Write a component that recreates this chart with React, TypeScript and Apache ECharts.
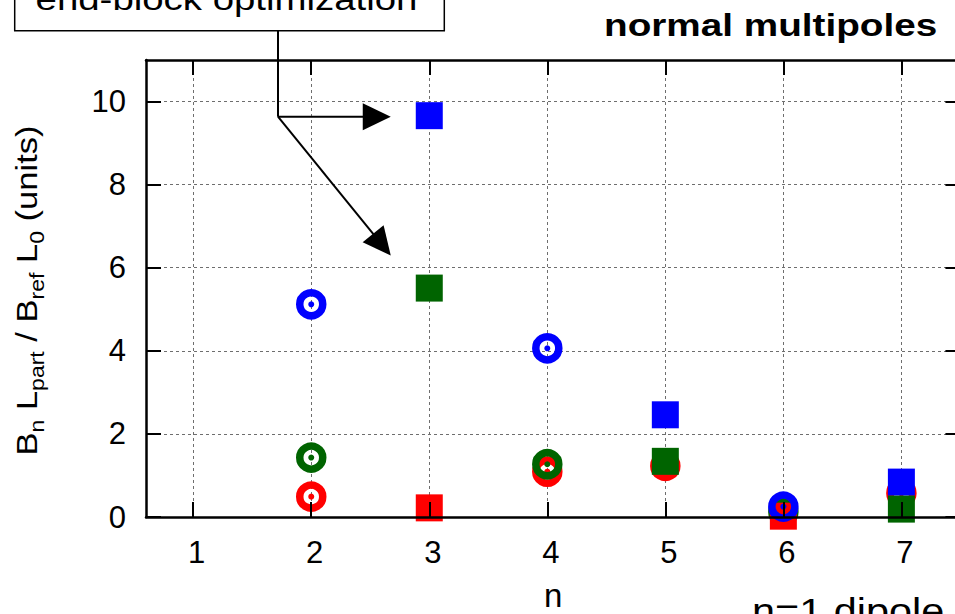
import { useEffect, useRef } from 'react';
import * as echarts from 'echarts';

// Multipole order n on the horizontal axis, value ticks on the vertical one
const orders = [1, 2, 3, 4, 5, 6, 7];
const yTickValues = [0, 2, 4, 6, 8, 10];
const xRange = [0.6, 7.5];
const yRange = [0, 11];

// Integrated normal multipoles, [n, Bn Lpart / Bref L0] in units
const redRings = [[2, 0.49], [4, 1.09], [5, 1.23], [7, 0.57]];
const greenRings = [[2, 1.43], [4, 1.27], [6, 0.12]];
const blueRings = [[2, 5.12], [4, 4.06], [6, 0.25]];
const redSquares = [[3, 0.22], [6, 0.02]];
const blueSquares = [[3, 9.66], [5, 2.46], [7, 0.84]];
const greenSquares = [[3, 5.51], [5, 1.34], [7, 0.19]];

// Y-axis title pieces: [text, isSubscript]
const yLabelParts: [string, boolean][] = [
  ['B', false], ['n', true], [' L', false], ['part', true],
  [' / B', false], ['ref', true], [' L', false], ['0', true], [' (units)', false],
];

const RED = '#ff0000';
const GREEN = '#006400';
const BLUE = '#0000ff';
const FONT = '"Liberation Sans", Arial, Helvetica, sans-serif';
const CENTRAL = 0.3465; // distance from alphabetic baseline to em-box centre, in em

function ringSeries(name: string, data: number[][], color: string) {
  return [
    {
      type: 'scatter', name, data, symbol: 'circle', symbolSize: 23, silent: true,
      emphasis: { disabled: true },
      itemStyle: { color: 'rgba(0,0,0,0)', borderColor: color, borderWidth: 7.5, opacity: 1 },
    },
    {
      type: 'scatter', name: name + ' centre', data, symbol: 'circle', symbolSize: 6, silent: true,
      emphasis: { disabled: true },
      itemStyle: { color, opacity: 1 },
    },
  ];
}

function squareSeries(name: string, data: number[][], color: string) {
  return {
    type: 'scatter', name, data, symbol: 'rect', symbolSize: 27, silent: true,
    emphasis: { disabled: true },
    itemStyle: { color, opacity: 1 },
  };
}

const gridLine = { show: true, lineStyle: { color: '#6e6e6e', width: 1, type: [3, 3] } };
const frameLine = { show: true, onZero: false, lineStyle: { color: '#000', width: 2.5 } };
const ticks = (values: number[]) => ({
  show: true, inside: true, length: 15, customValues: values,
  lineStyle: { color: '#000', width: 2 },
});
const tickLabel = {
  fontSize: 31, fontFamily: FONT, color: '#000', margin: 20,
};

function buildYLabel() {
  const ctx = document.createElement('canvas').getContext('2d')!;
  const MAIN = 30;
  const SUB = 20;
  const SHIFT = 7;
  let cx = 0;
  const children: any[] = [];
  for (const [t, sub] of yLabelParts) {
    const fs = sub ? SUB : MAIN;
    ctx.font = `${fs}px "Liberation Sans"`;
    const trimmed = t.replace(/^\s+/, '');
    const lead = ctx.measureText(t.slice(0, t.length - trimmed.length)).width;
    children.push({
      type: 'text',
      x: cx + lead,
      y: (sub ? SHIFT : 0) - CENTRAL * fs,
      style: {
        text: trimmed, fontSize: fs, fontFamily: FONT, fill: '#000',
        align: 'left', verticalAlign: 'middle', textAlign: 'left', textVerticalAlign: 'middle',
      },
    });
    cx += ctx.measureText(t).width;
  }
  return { width: cx, children };
}

function arrow(from: number[], tip: number[], id: string) {
  const len = 28;
  const half = 13.5;
  const dx = tip[0] - from[0];
  const dy = tip[1] - from[1];
  const d = Math.hypot(dx, dy);
  const ux = dx / d;
  const uy = dy / d;
  const bx = tip[0] - ux * len;
  const by = tip[1] - uy * len;
  return [
    {
      type: 'line', id: id + '-shaft', z: 100,
      shape: { x1: from[0], y1: from[1], x2: bx + ux * 2, y2: by + uy * 2 },
      style: { stroke: '#000', lineWidth: 2 },
    },
    {
      type: 'polygon', id: id + '-head', z: 100,
      shape: { points: [[tip[0], tip[1]], [bx - uy * half, by + ux * half], [bx + uy * half, by - ux * half]] },
      style: { fill: '#000' },
    },
  ];
}

export default function App() {
  const ref = useRef<HTMLDivElement>(null);

  useEffect(() => {
    if (!ref.current) return;
    const chart = echarts.init(ref.current, null, { renderer: 'svg' });

    const axisX = (position: string, extra: any) => ({
      type: 'value', min: xRange[0], max: xRange[1], position, ...extra,
    });
    const axisY = (position: string, extra: any) => ({
      type: 'value', min: yRange[0], max: yRange[1], position, ...extra,
    });

    chart.setOption({
      animation: false,
      backgroundColor: '#ffffff',
      grid: { left: 146, top: 60, right: -5.4, bottom: 97, containLabel: false, outerBoundsMode: 'none' },
      xAxis: [
        axisX('bottom', {
          axisLine: { show: false, onZero: false },
          axisTick: { show: false, customValues: orders },
          splitLine: gridLine,
          axisLabel: { ...tickLabel, customValues: orders, padding: [0, 0, 0, 7] },
          name: 'n', nameLocation: 'middle', nameGap: 62,
          nameTextStyle: { fontSize: 33, fontFamily: FONT, color: '#000' },
        }),
        axisX('bottom', {
          axisLine: frameLine, axisTick: ticks(orders), axisLabel: { show: false },
          splitLine: { show: false }, z: 10,
        }),
        axisX('top', {
          axisLine: frameLine, axisTick: ticks(orders), axisLabel: { show: false },
          splitLine: { show: false }, z: 10,
        }),
      ],
      yAxis: [
        axisY('left', {
          axisLine: { show: false, onZero: false },
          axisTick: { show: false, customValues: yTickValues },
          splitLine: gridLine,
          axisLabel: { ...tickLabel, customValues: yTickValues },
        }),
        axisY('left', {
          axisLine: frameLine, axisTick: ticks(yTickValues), axisLabel: { show: false },
          splitLine: { show: false }, z: 10,
        }),
        axisY('right', {
          axisLine: frameLine, axisTick: ticks(yTickValues), axisLabel: { show: false },
          splitLine: { show: false }, z: 10,
        }),
      ],
      series: [
        ...ringSeries('red rings', redRings, RED),
        ...ringSeries('green rings', greenRings, GREEN),
        squareSeries('red squares', redSquares, RED),
        ...ringSeries('blue rings', blueRings, BLUE),
        squareSeries('blue squares', blueSquares, BLUE),
        squareSeries('green squares', greenSquares, GREEN),
      ],
    });

    // Annotation arrows point at the optimized n = 3 values
    const finder = { xAxisIndex: 0, yAxisIndex: 0 };
    const blueAt3 = chart.convertToPixel(finder, blueSquares[0]) as number[];
    const greenAt3 = chart.convertToPixel(finder, greenSquares[0]) as number[];
    const tip1 = [blueAt3[0] - 38.5, blueAt3[1] + 1];
    const tip2 = [greenAt3[0] - 38.5, greenAt3[1] - 32.5];
    const knee = [278, tip1[1]];

    const yLabel = buildYLabel();
    const yScale = 330 / yLabel.width;

    chart.setOption({
      graphic: [
        {
          type: 'text', id: 'title', x: 604, y: 36 - CENTRAL * 32, scaleX: 1.21, z: 100,
          style: {
            text: 'normal multipoles', fontSize: 32, fontWeight: 'bold', fontFamily: FONT, fill: '#000',
            align: 'left', verticalAlign: 'middle', textAlign: 'left', textVerticalAlign: 'middle',
          },
        },
        {
          type: 'rect', id: 'note-box', z: 100,
          shape: { x: 14.7, y: -40, width: 429.6, height: 70.7 },
          style: { fill: '#fff', stroke: '#000', lineWidth: 1.5 },
        },
        {
          type: 'text', id: 'note-text', x: 226.5, y: 10 - CENTRAL * 32, scaleX: 1.2, z: 101,
          style: {
            text: 'end-block optimization', fontSize: 32, fontFamily: FONT, fill: '#000',
            align: 'center', verticalAlign: 'middle', textAlign: 'center', textVerticalAlign: 'middle',
          },
        },
        {
          type: 'line', id: 'note-stem', z: 100,
          shape: { x1: knee[0], y1: 30.7, x2: knee[0], y2: knee[1] },
          style: { stroke: '#000', lineWidth: 2 },
        },
        ...arrow(knee, tip1, 'arrow-blue'),
        ...arrow(knee, tip2, 'arrow-green'),
        {
          type: 'text', id: 'dipole-note', x: 752, y: 623 - CENTRAL * 36, scaleX: 1.15, z: 100,
          style: {
            text: 'n=1 dipole', fontSize: 36, fontFamily: FONT, fill: '#000',
            align: 'left', verticalAlign: 'middle', textAlign: 'left', textVerticalAlign: 'middle',
          },
        },
        {
          type: 'group', id: 'y-title', x: 37, y: 455.5, rotation: Math.PI / 2, scaleX: yScale, z: 100,
          children: yLabel.children,
        },
      ],
    });

    return () => chart.dispose();
  }, []);

  return (
    <div
      ref={ref}
      style={{ position: 'fixed', left: 0, top: 0, width: 955, height: 614, background: '#fff' }}
    />
  );
}
